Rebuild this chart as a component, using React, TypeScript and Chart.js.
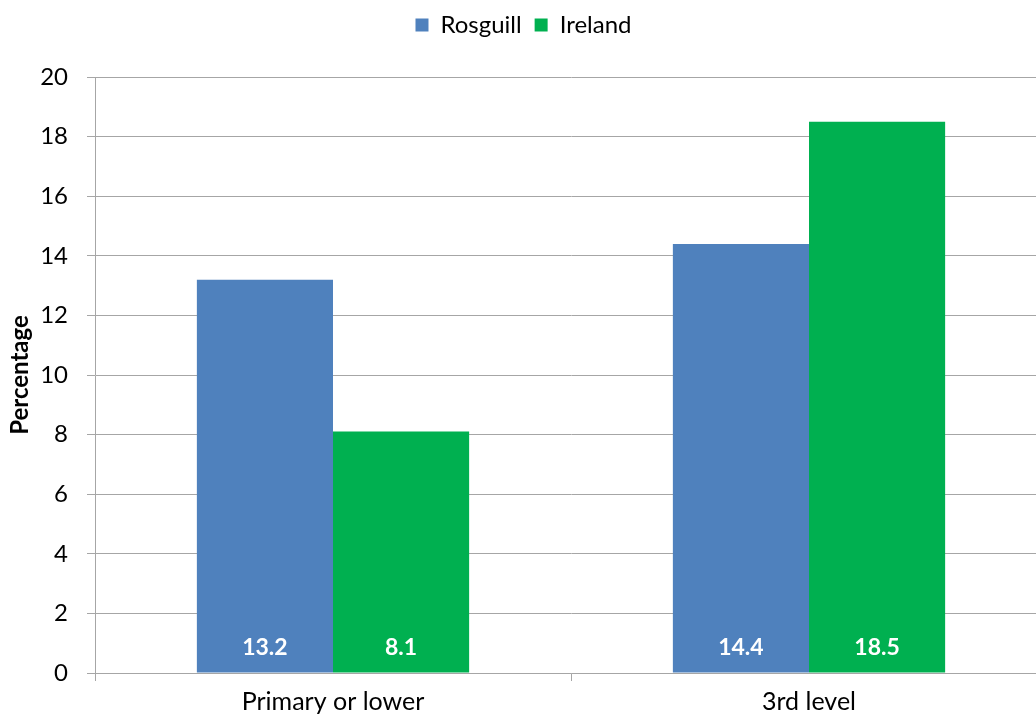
import React, { useEffect, useRef } from "react";
import { Chart, registerables } from "chart.js";

Chart.register(...registerables);

const categories = ["Primary or lower", "3rd level"];
const seriesNames = ["Rosguill", "Ireland"];
const rosguillValues = [13.2, 14.4];
const irelandValues = [8.1, 18.5];
const yMin = 0;
const yMax = 20;
const yStep = 2;

const FONT = "Lato, 'Open Sans', sans-serif";
const BLUE = "#4F81BD";
const GREEN = "#00B050";
const GRID = "#A6A6A6";

const CANVAS_W = 1060;
const CANVAS_H = 722;

const valueLabels = {
  id: "valueLabels",
  afterDatasetsDraw(chart: any) {
    const ctx = chart.ctx;
    const yScale = chart.scales.y;
    const base = yScale.getPixelForValue(0);
    ctx.save();
    ctx.fillStyle = "#FFFFFF";
    ctx.font = `bold 23px ${FONT}`;
    ctx.textAlign = "center";
    ctx.textBaseline = "middle";
    chart.data.datasets.forEach((ds: any, i: number) => {
      const meta = chart.getDatasetMeta(i);
      meta.data.forEach((bar: any, j: number) => {
        ctx.fillText(String(ds.data[j].toFixed(1)), bar.x, base - 25);
      });
    });
    ctx.restore();
  },
};

const legendHeight = {
  id: "legendHeight",
  beforeInit(chart: any) {
    const legend = chart.legend;
    if (!legend) return;
    const orig = legend.fit;
    legend.fit = function () {
      orig.call(this);
      this.height = 77;
    };
  },
};

export default function App() {
  const ref = useRef<HTMLCanvasElement | null>(null);
  useEffect(() => {
    if (!ref.current) return;
    const chart = new Chart(ref.current, {
      type: "bar",
      data: {
        labels: categories,
        datasets: [
          { label: seriesNames[0], data: rosguillValues, backgroundColor: BLUE, borderWidth: 0 },
          { label: seriesNames[1], data: irelandValues, backgroundColor: GREEN, borderWidth: 0 },
        ],
      },
      options: {
        responsive: false,
        animation: false,
        layout: { padding: { left: 0, right: CANVAS_W - 1047, top: 0, bottom: 0 } },
        datasets: { bar: { categoryPercentage: 0.572, barPercentage: 1 } },
        plugins: {
          legend: {
            position: "top",
            align: "center",
            labels: {
              boxWidth: 13,
              boxHeight: 13,
              padding: 13,
              color: "#000",
              font: { family: FONT, size: 24 },
            },
          },
          tooltip: { enabled: false },
        },
        scales: {
          x: {
            grid: {
              display: true,
              drawOnChartArea: false,
              drawTicks: true,
              tickLength: 8,
              color: GRID,
              offset: true,
            },
            border: { display: true, color: GRID, width: 1 },
            ticks: { color: "#000", font: { family: FONT, size: 25 }, padding: 6 },
            afterFit(scale: any) {
              scale.height = CANVAS_H - 673;
            },
          },
          y: {
            min: yMin,
            max: yMax,
            ticks: { stepSize: yStep, color: "#000", font: { family: FONT, size: 24 }, padding: 19 },
            grid: { color: GRID, tickLength: 8, drawTicks: true },
            border: { display: true, color: GRID, width: 1 },
            title: {
              display: true,
              text: "Percentage",
              color: "#000",
              font: { family: FONT, size: 24, weight: "bold" },
              padding: { top: 6, bottom: 0 },
            },
            afterFit(scale: any) {
              scale.width = 95;
            },
          },
        },
      },
      plugins: [valueLabels, legendHeight],
    });
    return () => chart.destroy();
  }, []);

  return (
    <div
      style={{
        position: "fixed",
        left: 0,
        top: 0,
        width: 1036,
        height: 722,
        overflow: "hidden",
        background: "#fff",
      }}
    >
      <canvas ref={ref} width={CANVAS_W} height={CANVAS_H} style={{ width: CANVAS_W, height: CANVAS_H, display: "block" }} />
    </div>
  );
}
